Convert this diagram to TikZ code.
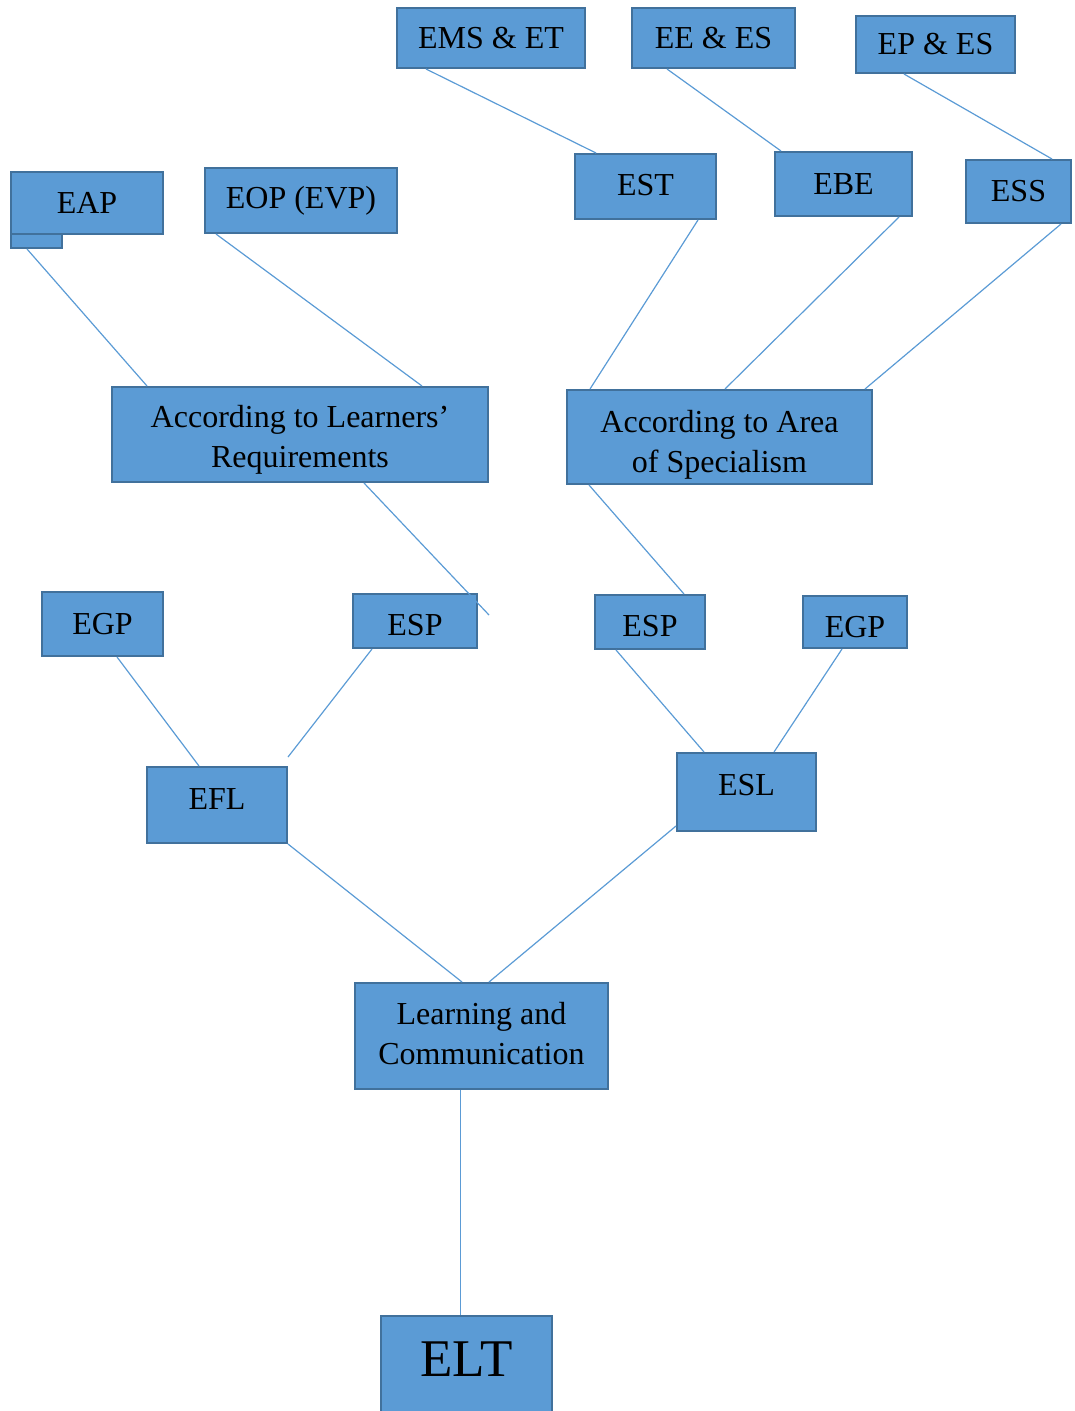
\documentclass[tikz,border=0pt]{standalone}
\usepackage{fontspec}
\setmainfont{Liberation Serif}
\usepackage{xcolor}
\usetikzlibrary{positioning,calc}
\definecolor{boxfill}{HTML}{5B9BD5}
\definecolor{boxline}{HTML}{41719C}
\tikzset{
  blk/.style={draw=boxline, fill=boxfill, line width=2pt, inner sep=0pt,
    align=center, font=\fontsize{32}{40}\selectfont},
  lnk/.style={draw=boxfill, line width=1.2pt}
}

\begin{document}
\begin{tikzpicture}[x=1pt, y=-1pt]
    \useasboundingbox (0,0) rectangle (1075,1411);
    % top row
    \node [blk, minimum width=188pt, minimum height=60pt] (emset) at (491,38) {EMS \& ET};
    \node [blk, minimum width=163pt, minimum height=60pt] (eees) at (713.5,38) {EE \& ES};
    \node [blk, minimum width=159pt, minimum height=57pt] (epes) at (935.5,44.5) {EP \& ES};
    \node [blk, minimum width=141pt, minimum height=65pt, text height=18pt, text depth=0pt] (est) at (645.5,186.5) {EST};
    \node [blk, minimum width=137pt, minimum height=64pt] (ebe) at (843.5,184) {EBE};
    \node [blk, minimum width=105pt, minimum height=63pt] (ess) at (1018.5,191.5) {ESS};
    \node [blk, minimum width=51pt, minimum height=24pt] (eaptab) at (36.5,236) {};
    \node [blk, minimum width=152pt, minimum height=62pt] (eap) at (87,203) {EAP};
    \node [blk, minimum width=192pt, minimum height=65pt] (eop) at (301,200.5) {EOP (EVP)};
    % middle
    \node [blk, minimum width=376pt, minimum height=95pt, text height=66pt, text depth=0pt] (learn) at (300,434.5) {According to Learners’\\Requirements};
    \node [blk, minimum width=305pt, minimum height=94pt, text height=70pt, text depth=0pt] (area) at (719.5,437) {According to Area\\of Specialism};
    \node [blk, minimum width=121pt, minimum height=64pt] (egpl) at (102.5,624) {EGP};
    \node [blk, minimum width=124pt, minimum height=54pt, text height=28pt, text depth=0pt] (espl) at (415,621) {ESP};
    \node [blk, minimum width=110pt, minimum height=54pt, text height=28pt, text depth=0pt] (espr) at (650,622) {ESP};
    \node [blk, minimum width=104pt, minimum height=52pt, text height=30pt, text depth=0pt] (egpr) at (855,622) {EGP};
    \node [blk, minimum width=140pt, minimum height=76pt, text height=22pt, text depth=14pt] (efl) at (217,805) {EFL};
    \node [blk, minimum width=139pt, minimum height=78pt, text height=22pt, text depth=16pt] (esl) at (746.5,792) {ESL};
    % bottom
    \node [blk, minimum width=253pt, minimum height=106pt, text height=56pt, text depth=0pt] (lc) at (481.5,1036) {Learning and\\Communication};
    \node [blk, anchor=north, minimum width=171pt, text height=60pt, text depth=50pt,
      font=\fontsize{53}{60}\selectfont] (elt) at (466.5,1315) {ELT};

    \draw [lnk] ([xshift=30pt]emset.south west) -- ([xshift=22pt]est.north west);
    \draw [lnk] ([xshift=36pt]eees.south west) -- ([xshift=7pt]ebe.north west);
    \draw [lnk] ([xshift=49pt]epes.south west) -- ([xshift=87pt]ess.north west);
    \draw [lnk] ([xshift=17pt]eaptab.south west) -- ([xshift=36pt]learn.north west);
    \draw [lnk] ([xshift=12pt]eop.south west) -- ([xshift=311pt]learn.north west);
    \draw [lnk] ([xshift=124pt]est.south west) -- ([xshift=24pt]area.north west);
    \draw [lnk] ([xshift=125pt]ebe.south west) -- ([xshift=159pt]area.north west);
    \draw [lnk] ([xshift=96pt]ess.south west) -- ([xshift=299pt]area.north west);
    \draw [lnk] ([xshift=253pt]learn.south west) -- ([xshift=11pt,yshift=-22pt]espl.north east);
    \draw [lnk] ([xshift=23pt]area.south west) -- ([xshift=90pt]espr.north west);
    \draw [lnk] ([xshift=76pt]egpl.south west) -- ([xshift=53pt]efl.north west);
    \draw [lnk] ([xshift=20pt]espl.south west) -- ([yshift=9pt]efl.north east);
    \draw [lnk] ([xshift=22pt]espr.south west) -- ([xshift=28pt]esl.north west);
    \draw [lnk] ([xshift=40pt]egpr.south west) -- ([xshift=98pt]esl.north west);
    \draw [lnk] (efl.south east) -- ([xshift=108pt]lc.north west);
    \draw [lnk] ([yshift=6pt]esl.south west) -- ([xshift=135pt]lc.north west);
    \draw [lnk] ([xshift=-21pt]lc.south) -- ([xshift=-6pt]elt.north);
\end{tikzpicture}
\end{document}
